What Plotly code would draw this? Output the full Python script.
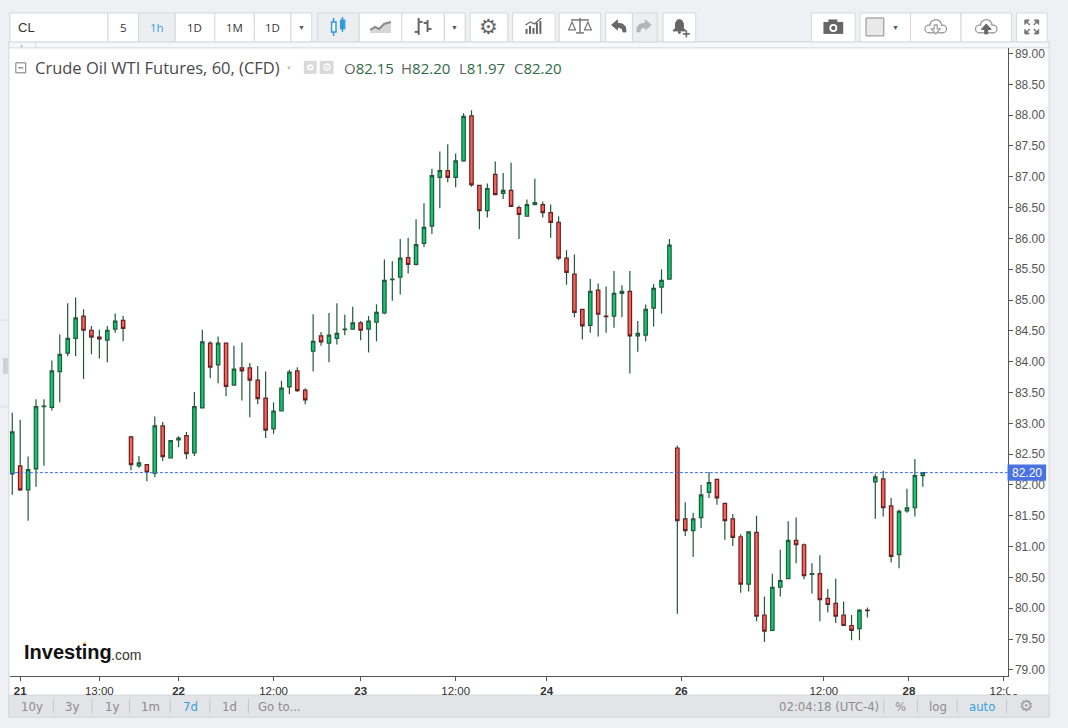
import plotly.graph_objects as go

W, H = 1068, 728

# 1) Hourly candles (x = candle number, one per hour):
opens = [82.18, 82.31, 81.92, 82.26, 83.27, 83.26, 83.84, 84.14, 84.38, 84.74,
         84.51, 84.40, 84.35, 84.53, 84.67, 82.78, 82.31, 82.33, 82.19, 82.96,
         82.44, 82.73, 82.80, 82.52, 83.25, 84.30, 83.95, 84.30, 83.62, 83.90,
         83.90, 83.70, 83.41, 82.91, 83.20, 83.59, 83.85, 83.54, 84.17, 84.42,
         84.30, 84.38, 84.52, 84.53, 84.63, 84.53, 84.64, 84.79, 85.33, 85.37,
         85.69, 85.58, 85.92, 86.20, 86.99, 87.10, 86.99, 87.26, 87.99, 86.86,
         86.45, 87.04, 86.73, 86.78, 86.50, 86.36, 86.55, 86.55, 86.42, 86.26,
         85.68, 85.42, 84.85, 84.59, 85.16, 84.74, 84.74, 85.11, 85.14, 84.42,
         84.43, 84.87, 85.21, 85.34, 82.60, 81.45, 81.26, 81.47, 81.88, 82.09,
         81.70, 81.45, 81.16, 80.39, 81.23, 79.89, 79.64, 80.34, 80.48, 81.10,
         81.03, 80.55, 80.56, 80.16, 80.08, 79.89, 79.72, 79.67, 79.97, 82.05,
         82.10, 81.66, 80.87, 81.58, 81.63, 82.15]
highs = [83.17, 83.06, 82.46, 83.39, 83.39, 84.02, 84.44, 84.95, 85.04, 84.85,
         84.58, 84.52, 84.58, 84.78, 84.74, 82.80, 82.47, 82.33, 83.11, 83.02,
         82.72, 82.79, 82.86, 83.51, 84.52, 84.33, 84.41, 84.30, 84.26, 84.31,
         83.98, 83.93, 83.84, 83.34, 83.69, 83.87, 83.91, 83.57, 84.77, 84.48,
         84.79, 84.95, 84.76, 84.89, 84.66, 84.74, 84.93, 85.66, 85.63, 85.99,
         86.01, 86.31, 86.57, 87.13, 87.41, 87.53, 87.38, 88.03, 88.08, 86.86,
         86.89, 87.25, 87.06, 87.23, 86.53, 86.63, 86.97, 86.60, 86.55, 86.36,
         85.81, 85.74, 84.85, 85.34, 85.27, 85.22, 85.47, 85.24, 85.47, 84.66,
         84.93, 85.26, 85.50, 85.99, 82.64, 81.72, 81.55, 82.00, 82.21, 82.09,
         81.70, 81.53, 81.20, 81.24, 81.50, 80.19, 80.56, 80.95, 81.41, 81.47,
         81.05, 80.73, 80.86, 80.31, 80.48, 80.11, 79.89, 79.98, 80.01, 82.18,
         82.23, 81.79, 81.60, 81.94, 82.42, 82.20]
lows = [81.84, 81.90, 81.42, 81.97, 82.31, 83.21, 83.34, 84.09, 84.09, 83.72,
        84.12, 84.05, 83.99, 84.47, 84.33, 82.24, 82.28, 82.06, 82.13, 82.39,
        82.44, 82.61, 82.42, 82.47, 83.25, 83.73, 83.65, 83.44, 83.62, 83.37,
        83.10, 83.31, 82.76, 82.83, 83.20, 83.47, 83.51, 83.31, 83.84, 84.26,
        83.99, 84.28, 84.43, 84.53, 84.35, 84.15, 84.33, 84.77, 84.99, 85.09,
        85.43, 85.56, 85.86, 86.07, 86.49, 86.91, 86.83, 87.25, 86.84, 86.15,
        86.34, 86.71, 86.64, 86.52, 85.99, 86.36, 86.55, 86.34, 86.01, 85.65,
        85.25, 84.72, 84.36, 84.47, 84.41, 84.47, 84.55, 84.72, 83.81, 84.16,
        84.33, 84.57, 84.78, 85.34, 79.91, 81.17, 80.83, 81.30, 81.79, 81.68,
        81.11, 81.01, 80.25, 80.27, 79.79, 79.45, 79.64, 80.19, 80.48, 80.73,
        80.47, 80.24, 79.79, 79.93, 79.76, 79.72, 79.48, 79.48, 79.85, 81.45,
        81.49, 80.74, 80.65, 81.55, 81.49, 81.97]
closes = [82.86, 81.92, 82.25, 83.27, 83.28, 83.85, 84.12, 84.38, 84.71, 84.51,
          84.40, 84.37, 84.51, 84.66, 84.54, 82.33, 82.36, 82.21, 82.96, 82.46,
          82.72, 82.76, 82.51, 83.27, 84.32, 83.91, 84.30, 83.60, 83.88, 83.85,
          83.70, 83.40, 82.89, 83.20, 83.57, 83.83, 83.53, 83.38, 84.33, 84.32,
          84.43, 84.46, 84.53, 84.63, 84.51, 84.66, 84.80, 85.32, 85.34, 85.68,
          85.58, 85.90, 86.18, 87.02, 87.10, 86.99, 87.26, 87.98, 86.87, 86.45,
          86.81, 86.71, 86.78, 86.52, 86.39, 86.55, 86.58, 86.42, 86.26, 85.68,
          85.45, 84.80, 84.58, 85.14, 84.77, 84.73, 85.11, 85.14, 84.42, 84.46,
          84.85, 85.19, 85.32, 85.89, 81.42, 81.26, 81.45, 81.84, 82.04, 81.79,
          81.42, 81.15, 80.39, 81.24, 79.87, 79.63, 80.34, 80.45, 81.10, 81.03,
          80.53, 80.56, 80.14, 80.06, 79.87, 79.72, 79.64, 79.97, 79.96, 82.13,
          81.63, 80.84, 81.57, 81.63, 82.15, 82.20]

# 2) Axis labels:
time_tick_pos = [1, 11, 21, 33, 44, 56, 67.5, 84.5, 102.5, 113.25, 125.25]
time_tick_text = ['<b>21</b>', '13:00', '<b>22</b>', '12:00', '<b>23</b>', '12:00',
                  '<b>24</b>', '<b>26</b>', '12:00', '<b>28</b>', '12:00']
price_ticks = [79.0, 79.5, 80.0, 80.5, 81.0, 81.5, 82.0, 82.5, 83.0, 83.5, 84.0,
               84.5, 85.0, 85.5, 86.0, 86.5, 87.0, 87.5, 88.0, 88.5, 89.0]
last_price = 82.20
ohlc_header = [('O', '82.15'), ('H', '82.20'), ('L', '81.97'), ('C', '82.20')]

range_buttons = ['10y', '3y', '1y', '1m', '7d', '1d', 'Go to...']
clock_text = '02:04:18 (UTC-4)'

UI = 'Open Sans, Noto Sans, sans-serif'
AX = 'Liberation Sans, Arial, sans-serif'
NARROW = 'Liberation Sans Narrow, DejaVu Sans Condensed, Arial Narrow, sans-serif'
BG = '#eff0f4'
BORDER = '#d5d7db'
BLUE = '#37a0de'

shapes = []
annotations = []


def px(x):
    return x / W


def py(y):
    return 1 - y / H


def rect(x0, y0, x1, y1, fill, line=None, width=1, layer='below'):
    shapes.append(dict(type='rect', xref='paper', yref='paper',
                       x0=px(x0), x1=px(x1), y0=py(y1), y1=py(y0),
                       fillcolor=fill, layer=layer,
                       line=dict(color=line or fill, width=width if line else 0)))


def seg(x0, y0, x1, y1, color, width=1, layer='above'):
    shapes.append(dict(type='line', xref='paper', yref='paper',
                       x0=px(x0), x1=px(x1), y0=py(y0), y1=py(y1), layer=layer,
                       line=dict(color=color, width=width)))


def circle(cx, cy, r, fill, line=None, width=1):
    shapes.append(dict(type='circle', xref='paper', yref='paper',
                       x0=px(cx - r), x1=px(cx + r), y0=py(cy + r), y1=py(cy - r),
                       fillcolor=fill, layer='above',
                       line=dict(color=line or fill, width=width if line else 0)))


def poly(points, fill=None, line=None, width=1, closed=True):
    d = 'M ' + ' L '.join(f'{px(x):.5f},{py(y):.5f}' for x, y in points)
    if closed:
        d += ' Z'
    shapes.append(dict(type='path', xref='paper', yref='paper', path=d, layer='above',
                       fillcolor=fill or 'rgba(0,0,0,0)',
                       line=dict(color=line or 'rgba(0,0,0,0)', width=width if line else 0)))


def text(x, y, s, size=12, color='#333', family=UI, anchor='center'):
    annotations.append(dict(xref='paper', yref='paper', x=px(x), y=py(y), text=s,
                            showarrow=False, xanchor=anchor, yanchor='middle',
                            font=dict(size=size, color=color, family=family)))


def cloud(cx, cy, color):
    for fill, d in ((color, 0), ('white', 1.3)):
        circle(cx - 7, cy + 2, 4.5 - d, fill)
        circle(cx + 7, cy + 2, 4.5 - d, fill)
        circle(cx, cy - 1.5, 6.5 - d, fill)
        shapes.append(dict(type='rect', xref='paper', yref='paper', layer='above',
                           x0=px(cx - 7), x1=px(cx + 7), y0=py(cy + 6.5 - d), y1=py(cy + 1),
                           fillcolor=fill, line=dict(width=0)))


# 3) Page frame: white panel, bottom range bar, strip under the toolbar
rect(9, 41, 1060, 718, 'white', BORDER)
rect(9, 41, 1060, 47, '#f7f8fa', BORDER)
text(22, 44, '▲', 5, '#c3c4c8')
seg(36, 41, 36, 47, BORDER)
rect(9, 696, 1060, 718, '#e3e4e8', BORDER)
rect(3, 358, 8, 374, '#cfd0d4')
seg(0, 320, 9, 320, '#dcdde1')
seg(0, 407, 9, 407, '#dcdde1')

# 4) Toolbar buttons
buttons = [(10, 109, False), (109, 140, False), (140, 177, True), (177, 217, False),
           (217, 257, False), (257, 294, False), (294, 315, False),
           (321, 363, True), (363, 406, False), (406, 449, False), (449, 470, False),
           (475, 513, False), (518, 561, False), (565, 607, False),
           (612, 639, False), (639, 664, True), (670, 703, False),
           (820, 864, False), (869, 920, False), (920, 971, False), (971, 1022, False),
           (1027, 1058, False)]
for x0, x1, hi in buttons:
    rect(x0, 12, x1, 41, '#eceef1' if hi else 'white', BORDER)

text(16, 26.5, 'CL', 13, '#333', AX, 'left')
for cx, lab, col in [(124.5, '5', '#333'), (158.5, '1h', BLUE), (197, '1D', '#333'),
                     (237, '1M', '#333'), (275.5, '1D', '#333')]:
    text(cx, 26.5, lab, 11.5, col, UI)
for cx in (304.5, 459.5, 905):
    text(cx, 26.5, '▼', 7, '#555', AX)

# candle-type icon
seg(337, 17, 337, 35, '#2d9be0', 1.5)
poly([(335, 21), (339.5, 21), (339.5, 31), (335, 31)], 'white', '#2d9be0', 1.5)
seg(346, 16, 346, 31, '#2d9be0', 1.5)
poly([(344, 19), (348.5, 19), (348.5, 28), (344, 28)], '#2d9be0', '#2d9be0', 1)
# line-type icon
poly([(374, 32), (374, 29), (379, 26), (383, 28), (388, 23), (395, 21), (395, 32)], '#d6d6d6')
poly([(374, 29), (379, 26), (383, 28), (388, 23), (395, 21)], None, '#8a8a8a', 2, closed=False)
# bar-type icon
seg(423, 17, 423, 34, '#666', 2)
seg(419, 31, 423, 31, '#666', 2)
seg(423, 21, 427, 21, '#666', 2)
seg(432, 19, 432, 31, '#666', 2)
seg(428, 22, 432, 22, '#666', 2)
seg(432, 28, 436, 28, '#666', 2)
# settings gear
text(494, 26, '⚙', 21, '#666', 'DejaVu Sans')
# indicators icon
for bx, top in [(532, 28), (535.5, 25), (539, 27), (542.5, 22), (546, 20)]:
    seg(bx, 33, bx, top, '#666', 2)
poly([(531, 24), (536, 21), (540, 23), (547, 17)], None, '#666', 1.2, closed=False)
# compare/scale icon
seg(577, 19, 595, 19, '#777', 1.5)
seg(586, 17, 586, 32, '#777', 1.5)
seg(582, 32, 590, 32, '#777', 1.5)
poly([(578, 21), (574.5, 29), (581.5, 29)], 'white', '#777', 1.2)
poly([(594, 21), (590.5, 29), (597.5, 29)], 'white', '#777', 1.2)
# undo / redo
poly([(618, 24), (624, 19), (624, 29)], '#666', '#666')
poly([(624, 22.5), (629, 23), (632, 26), (632.5, 31), (629.5, 31), (628.5, 27.5), (624, 26)], '#666', '#666')
poly([(658, 24), (652, 19), (652, 29)], '#b5b5b5', '#b5b5b5')
poly([(652, 22.5), (647, 23), (644, 26), (643.5, 31), (646.5, 31), (647.5, 27.5), (652, 26)], '#b5b5b5', '#b5b5b5')
# alert bell
poly([(680, 30), (682.5, 27), (682.5, 22.5), (684, 19.5), (686.5, 18.5), (689, 19.5),
      (690.5, 22.5), (690.5, 27), (693, 30)], '#666', '#666')
circle(686.5, 31.5, 1.5, '#666')
seg(690, 33, 697, 33, '#666', 1.6)
seg(693.5, 29.5, 693.5, 36.5, '#666', 1.6)
# camera
rect(832, 21, 852, 33, '#666', layer='above')
rect(837, 18.5, 846, 21.5, '#666', layer='above')
circle(842, 27, 4, 'white')
circle(842, 27, 2.2, '#666')
# colour swatch
rect(875, 17, 893, 35, '#e9e9e9', '#8a8a8a', layer='above')
# cloud load / save
cloud(945.5, 26, '#9a9a9a')
poly([(944, 24), (947, 24), (947, 28), (950, 28), (945.5, 33), (941, 28), (944, 28)], 'white', '#9a9a9a', 1.2)
cloud(996.5, 26, '#9a9a9a')
poly([(995, 33), (998, 33), (998, 28.5), (1001.5, 28.5), (996.5, 23), (991.5, 28.5), (995, 28.5)], '#666', '#666')
# fullscreen
for sx, sy in [(-1, -1), (1, -1), (-1, 1), (1, 1)]:
    tx, ty = 1042.5 + 7 * sx, 26 + 7 * sy
    poly([(tx, ty), (tx - 4.5 * sx, ty), (tx, ty - 4.5 * sy)], '#777', '#777')
    seg(tx - 2 * sx, ty - 2 * sy, tx - 5 * sx, ty - 5 * sy, '#777', 1.5)

# 5) Legend header above the candles
rect(16, 62, 26, 72, 'white', '#777', layer='above')
seg(18.5, 67, 23.5, 67, '#777', 1.2)
text(33.5, 67, 'Crude Oil WTI Futures, 60, (CFD)', 16.5, '#4a4a4a', UI, 'left')
text(292, 67, '▼', 6, '#bdbdbd', AX)
rect(307, 60, 320, 73, '#d9d9d9', layer='above')
circle(313.5, 66.5, 3.2, 'white')
circle(313.5, 66.5, 1.4, '#d9d9d9')
rect(323, 60, 337, 73, '#d9d9d9', layer='above')
text(330, 66.5, '⚙', 11, 'white', 'DejaVu Sans')
for (key, val), x0 in zip(ohlc_header, [346, 403, 462, 517]):
    text(x0, 67, f"{key}<span style='color:#2d6a48'>{val}</span>", 15, '#666', UI, 'left')

# 6) Watermark
text(22, 653, '<b>Investing</b>', 20, '#111', AX, 'left')
text(110, 656, '.com', 14, '#333', AX, 'left')
circle(85.5, 644.5, 1.6, '#f5a623')

# 7) Bottom range bar
for cx, lab in zip([32, 73, 113, 152, 192, 232, 282], range_buttons):
    text(cx, 707, lab, 13, BLUE if lab == '7d' else '#8c8c8c', NARROW)
for sx in [54, 93, 131, 172, 212, 251, 893, 927, 967, 1017]:
    seg(sx, 700, sx, 714, '#c4c5c9')
text(838, 707, clock_text, 13, '#8c8c8c', NARROW)
text(910, 707, '%', 13, '#8c8c8c', NARROW)
text(947.5, 707, 'log', 13, '#8c8c8c', NARROW)
text(992.5, 707, 'auto', 13, BLUE, NARROW)
text(1037, 706.5, '⚙', 16, '#9c9c9c', 'DejaVu Sans')

# 8) Last price line and its axis tag
shapes.append(dict(type='line', xref='paper', yref='y', x0=px(10), x1=px(1018),
                   y0=last_price, y1=last_price, layer='above',
                   line=dict(color='#3b6cf0', width=1, dash='3px,2px')))
shapes.append(dict(type='rect', xref='paper', yref='y', x0=px(1018), x1=px(1057),
                   y0=last_price - 0.13, y1=last_price + 0.13, layer='above',
                   fillcolor='#4b72e2', line=dict(width=0)))
annotations.append(dict(xref='paper', yref='y', x=px(1038), y=last_price,
                        xanchor='center', yanchor='middle',
                        text=f'{last_price:.2f}', showarrow=False,
                        font=dict(size=12, color='white', family=AX)))
# clip the last time label where the price scale starts
rect(1019, 678, 1056, 695, 'white', layer='above')

# 9) Wicks as segments outside the bodies, then the candle bodies
wick_x, wick_y = [], []
body_top, body_bot = [], []
for i, (o, h, l, c) in enumerate(zip(opens, highs, lows, closes)):
    top, bot = max(o, c), min(o, c)
    body_top.append(top)
    body_bot.append(bot)
    wick_x += [i, i, None, i, i, None]
    wick_y += [h, top, None, bot, l, None]

idx = list(range(len(opens)))

fig = go.Figure()
fig.add_trace(go.Scatter(
    x=wick_x, y=wick_y, mode='lines', hoverinfo='skip',
    line=dict(color='#1f5a3c', width=1.2)
))
fig.add_trace(go.Candlestick(
    x=idx, open=opens, high=body_top, low=body_bot, close=closes,
    increasing=dict(fillcolor='#13c670', line=dict(color='#1e5c3b', width=1.2)),
    decreasing=dict(fillcolor='#f5655b', line=dict(color='#6e1e1e', width=1.2)),
    whiskerwidth=0
))

fig.update_layout(
    width=W, height=H, autosize=False,
    margin=dict(l=0, r=0, t=0, b=0),
    paper_bgcolor=BG, plot_bgcolor='white',
    showlegend=False, boxgap=0.38,
    shapes=shapes, annotations=annotations,
    xaxis=dict(
        domain=[px(10), px(1018)], range=[-0.3, 125.7],
        rangeslider=dict(visible=False),
        tickmode='array', tickvals=time_tick_pos, ticktext=time_tick_text,
        showgrid=False, zeroline=False,
        showline=True, linecolor='#555', linewidth=1,
        ticks='outside', ticklen=4, tickcolor='#555',
        tickfont=dict(size=11.5, color='#333', family=AX)
    ),
    yaxis=dict(
        domain=[py(677), py(47)], range=[78.898, 89.092], side='right',
        tickmode='array', tickvals=price_ticks, tickformat='.2f',
        showgrid=False, zeroline=False,
        showline=True, linecolor='#555', linewidth=1,
        ticks='outside', ticklen=4, tickcolor='#555',
        tickfont=dict(size=12, color='#555', family=AX)
    )
)

# the page body has a default 8px margin; drop it so the figure fills the window
fig.write_html('out.html', config={'displayModeBar': False},
               post_script="document.body.style.margin='0';document.body.style.overflow='hidden';")
